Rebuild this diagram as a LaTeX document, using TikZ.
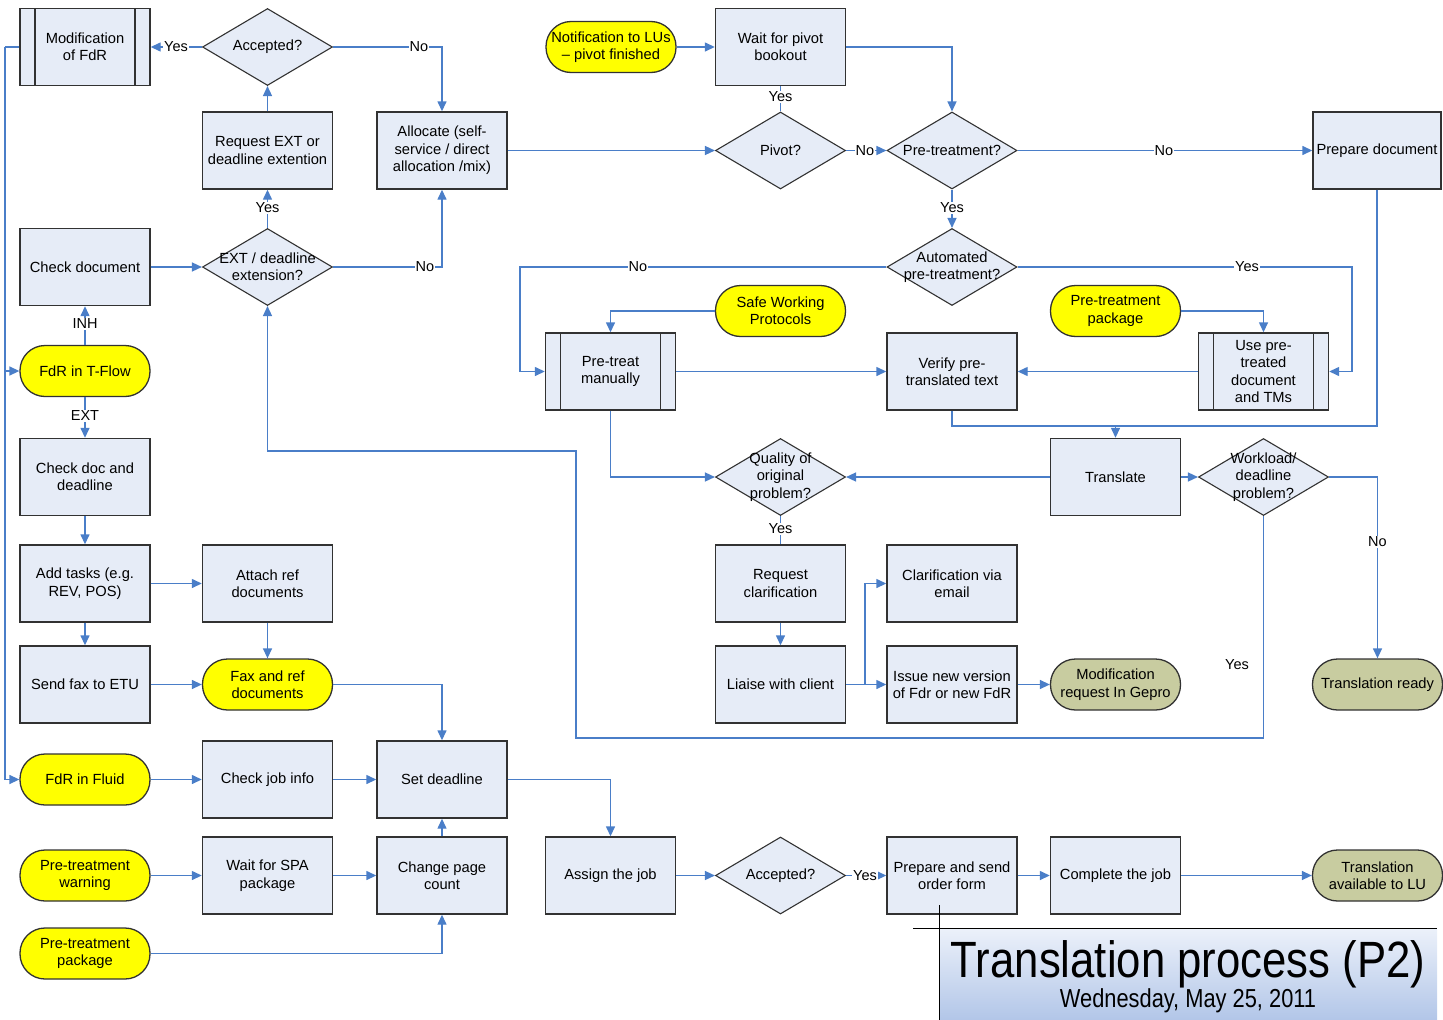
\documentclass[tikz,border=0pt]{standalone}
\usepackage{fontspec}
\setmainfont{Liberation Sans}
\usepackage{graphicx}
\usetikzlibrary{arrows.meta,shapes.geometric}
\definecolor{boxfill}{RGB}{230,236,247}
\definecolor{edgegray}{RGB}{50,50,50}
\definecolor{linkblue}{RGB}{74,126,200}
\definecolor{olivefill}{RGB}{200,204,160}
\definecolor{ylw}{RGB}{255,255,0}
\definecolor{shadetop}{RGB}{236,241,250}
\definecolor{shadebot}{RGB}{178,198,232}
\begin{document}
\begin{tikzpicture}[x=1pt,y=-1pt,
  every node/.style={font=\fontsize{14.7}{17.4}\selectfont, text=black},
  proc/.style={draw=edgegray, line width=1.4pt, fill=boxfill, minimum width=130pt, minimum height=77pt, inner sep=1pt, align=center},
  predef/.style={proc, path picture={\draw[edgegray, line width=1.4pt]
     ([xshift=15pt]path picture bounding box.north west) -- ([xshift=15pt]path picture bounding box.south west)
     ([xshift=-15pt]path picture bounding box.north east) -- ([xshift=-15pt]path picture bounding box.south east);}},
  dec/.style={diamond, draw=edgegray, line width=1.1pt, fill=boxfill, minimum width=130pt, minimum height=77pt, inner sep=0pt},
  dectext/.style={align=center, inner sep=0pt},
  term/.style={draw=edgegray, line width=1.3pt, rounded corners=25pt, minimum width=130pt, minimum height=51pt, inner sep=0pt, align=center},
  yterm/.style={term, fill=ylw},
  oterm/.style={term, fill=olivefill},
  link/.style={draw=linkblue, line width=1.4pt},
  arr/.style={link, -{Triangle[length=10pt,width=9pt]}},
  lbl/.style={fill=white, inner sep=1pt, font=\fontsize{14.5}{16}\selectfont}]
\useasboundingbox (0,0) rectangle (1443,1020);

% ---------- left part ----------
\node[predef] (modfdr) at (85,47) {Modification\\of FdR};
\node[dec] (acc1) at (267.5,47) {};
\node[dectext] (acc1t) at (acc1) {Accepted?};
\node[proc] (reqext) at (267.5,150.5) {Request EXT or\\deadline extention};
\node[proc] (alloc) at (442,150.5) {Allocate (self-\\service / direct\\allocation /mix)};
\node[proc] (chkdoc) at (85,267) {Check document};
\node[dec] (extd) at (267.5,267) {};
\node[dectext] (extdt) at (extd) {EXT / deadline\\extension?};
\node[yterm] (tflow) at (85,371) {FdR in T-Flow};
\node[proc] (chkdd) at (85,477) {Check doc and\\deadline};
\node[proc] (addt) at (85,583.5) {Add tasks (e.g.\\REV, POS)};
\node[proc] (attach) at (267.5,583.5) {Attach ref\\documents};
\node[proc] (sendfax) at (85,684.5) {Send fax to ETU};
\node[yterm] (faxref) at (267.5,684.5) {Fax and ref\\documents};
\node[yterm] (fluid) at (85,779.5) {FdR in Fluid};
\node[proc] (chkjob) at (267.5,779.5) {Check job info};
\node[proc] (setdl) at (442,779.5) {Set deadline};
\node[yterm] (ptwarn) at (85,875.5) {Pre-treatment\\warning};
\node[proc] (waitspa) at (267.5,875.5) {Wait for SPA\\package};
\node[proc] (chpage) at (442,875.5) {Change page\\count};
\node[yterm] (ptpack1) at (85,953.5) {Pre-treatment\\package};
\node[proc] (assign) at (610.5,875.5) {Assign the job};
\node[dec] (acc2) at (780.5,875.5) {};
\node[dectext] (acc2t) at (acc2) {Accepted?};
\node[proc] (prepsend) at (952,875.5) {Prepare and send\\order form};
\node[proc] (complete) at (1115.5,875.5) {Complete the job};
\node[oterm] (transavail) at (1377.5,875.5) {Translation\\available to LU};

% ---------- right part ----------
\node[yterm] (notif) at (611,47) {Notification to LUs\\– pivot finished};
\node[proc] (waitpiv) at (780.5,47) {Wait for pivot\\bookout};
\node[dec] (pivot) at (780.5,150.5) {};
\node[dectext] (pivott) at (pivot) {Pivot?};
\node[dec] (pretr) at (952,150.5) {};
\node[dectext] (pretrt) at (pretr) {Pre-treatment?};
\node[proc, minimum width=128pt] (prepdoc) at (1377,150.5) {Prepare document};
\node[dec] (autopt) at (952,267) {};
\node[dectext] (autoptt) at (autopt) {Automated\\pre-treatment?};
\node[yterm] (swp) at (780.5,311) {Safe Working\\Protocols};
\node[yterm] (ptpack2) at (1115.5,311) {Pre-treatment\\package};
\node[predef] (ptman) at (610.5,371.5) {Pre-treat\\manually};
\node[proc] (verify) at (952,371.5) {Verify pre-\\translated text};
\node[predef] (usept) at (1263.5,371.5) {Use pre-\\treated\\document\\and TMs};
\node[dec] (quality) at (780.5,477) {};
\node[dectext] (qualityt) at (quality) {Quality of\\original\\problem?};
\node[proc] (translate) at (1115.5,477) {Translate};
\node[dec] (workload) at (1263.5,477) {};
\node[dectext] (workloadt) at (workload) {Workload/\\deadline\\problem?};
\node[proc] (reqclar) at (780.5,583.5) {Request\\clarification};
\node[proc] (clarmail) at (952,583.5) {Clarification via\\email};
\node[proc] (liaise) at (780.5,684.5) {Liaise with client};
\node[proc] (issue) at (952,684.5) {Issue new version\\of Fdr or new FdR};
\node[oterm] (modreq) at (1115.5,684.5) {Modification\\request In Gepro};
\node[oterm] (transready) at (1377.5,684.5) {Translation ready};

% ---------- connectors ----------
\draw[arr] (acc1.west) -- (modfdr.east);
\draw[arr] (acc1.east) -| (alloc.north);
\draw[arr] (reqext.north) -- (acc1.south);
\draw[arr] (extd.north) -- (reqext.south);
\draw[arr] (extd.east) -| (alloc.south);
\draw[arr] (chkdoc.east) -- (extd.west);
\draw[arr] (tflow.north) -- (chkdoc.south);
\draw[arr] (tflow.south) -- (chkdd.north);
\coordinate (lx) at (5,47);
\draw[link] (modfdr.west) -- (lx);
\draw[arr] (lx) |- (tflow.west);
\draw[arr] (lx) |- (fluid.west);
\draw[arr] (chkdd) -- (addt);
\draw[arr] (addt) -- (attach);
\draw[arr] (addt) -- (sendfax);
\draw[arr] (attach) -- (faxref);
\draw[arr] (sendfax) -- (faxref);
\draw[arr] (faxref.east) -| (setdl.north);
\draw[arr] (fluid) -- (chkjob);
\draw[arr] (chkjob) -- (setdl);
\draw[arr] (chpage) -- (setdl);
\draw[arr] (ptwarn) -- (waitspa);
\draw[arr] (waitspa) -- (chpage);
\draw[arr] (ptpack1.east) -| (chpage.south);
\draw[arr] (setdl.east) -| (assign.north);
\draw[arr] (assign) -- (acc2);
\draw[arr] (acc2) -- (prepsend);
\draw[arr] (prepsend) -- (complete);
\draw[arr] (complete) -- (transavail);
\draw[arr] (alloc.east) -- (pivot.west);
\draw[arr] (notif) -- (waitpiv);
\draw[link] (pivot.north) -- (waitpiv.south);
\draw[arr] (waitpiv.east) -| (pretr.north);
\draw[arr] (pivot) -- (pretr);
\draw[arr] (pretr) -- (prepdoc);
\draw[arr] (pretr) -- (autopt);
\coordinate (nol) at (520,267);
\draw[arr] (autopt.west) -- (nol) |- (ptman.west);
\coordinate (yesr) at (1352,267);
\draw[arr] (autopt.east) -- (yesr) |- (usept.east);
\draw[arr] (swp.west) -| (ptman.north);
\draw[arr] (ptpack2.east) -| (usept.north);
\draw[arr] (ptman) -- (verify);
\draw[arr] (usept) -- (verify);
\coordinate (mj) at (1115.5,426);
\draw[link] (verify.south) |- (mj);
\draw[link] (prepdoc.south) |- (mj);
\draw[arr] (mj) -- (translate.north);
\draw[arr] (ptman.south) |- (quality.west);
\draw[arr] (translate) -- (quality);
\draw[arr] (translate) -- (workload);
\draw[arr] (workload.east) -| (transready.north);
\coordinate (b1) at (1263.5,738);
\coordinate (b2) at (576,738);
\coordinate (b3) at (576,451);
\coordinate (b4) at (267.5,451);
\draw[arr] (workload.south) -- (b1) -- (b2) -- (b3) -- (b4) -- (extd.south);
\draw[link] (quality.south) -- (reqclar.north);
\draw[arr] (reqclar) -- (liaise);
\coordinate (sp) at (865,684.5);
\draw[arr] (liaise.east) -- (sp) |- (clarmail.west);
\draw[arr] (sp) -- (issue.west);
\draw[arr] (issue) -- (modreq);

% ---------- labels ----------
\node[lbl] (l1) at (176,47) {Yes};
\node[lbl] (l2) at (419,47) {No};
\node[lbl] (l3) at (267.5,208) {Yes};
\node[lbl] (l4) at (425,267) {No};
\node[lbl] (l5) at (85,324) {INH};
\node[lbl] (l6) at (85,416) {EXT};
\node[lbl] (l7) at (780.5,97) {Yes};
\node[lbl] (l8) at (865,150.5) {No};
\node[lbl] (l9) at (1164,150.5) {No};
\node[lbl] (l10) at (952,208) {Yes};
\node[lbl] (l11) at (638,267) {No};
\node[lbl] (l12) at (1247,267) {Yes};
\node[lbl] (l13) at (780.5,529) {Yes};
\node[lbl] (l14) at (1377.5,542) {No};
\node[lbl] (l15) at (1237,665) {Yes};
\node[lbl] (l16) at (865,875.5) {Yes};

% ---------- title block ----------
\shade[top color=shadetop, bottom color=shadebot] (939,928) rectangle (1437,1020);
\draw[black, line width=1pt] (913,928) -- (1437,928);
\draw[black, line width=1pt] (939,905) -- (939,1020);
\node[anchor=base, inner sep=0pt] (title) at (1188,977) {\fontsize{51}{53}\selectfont\scalebox{0.857}[1]{Translation process (P2)}};
\node[anchor=base, inner sep=0pt] (date) at (1188,1007) {\fontsize{26}{28}\selectfont\scalebox{0.84}[1]{Wednesday, May 25, 2011}};
\end{tikzpicture}
\end{document}
